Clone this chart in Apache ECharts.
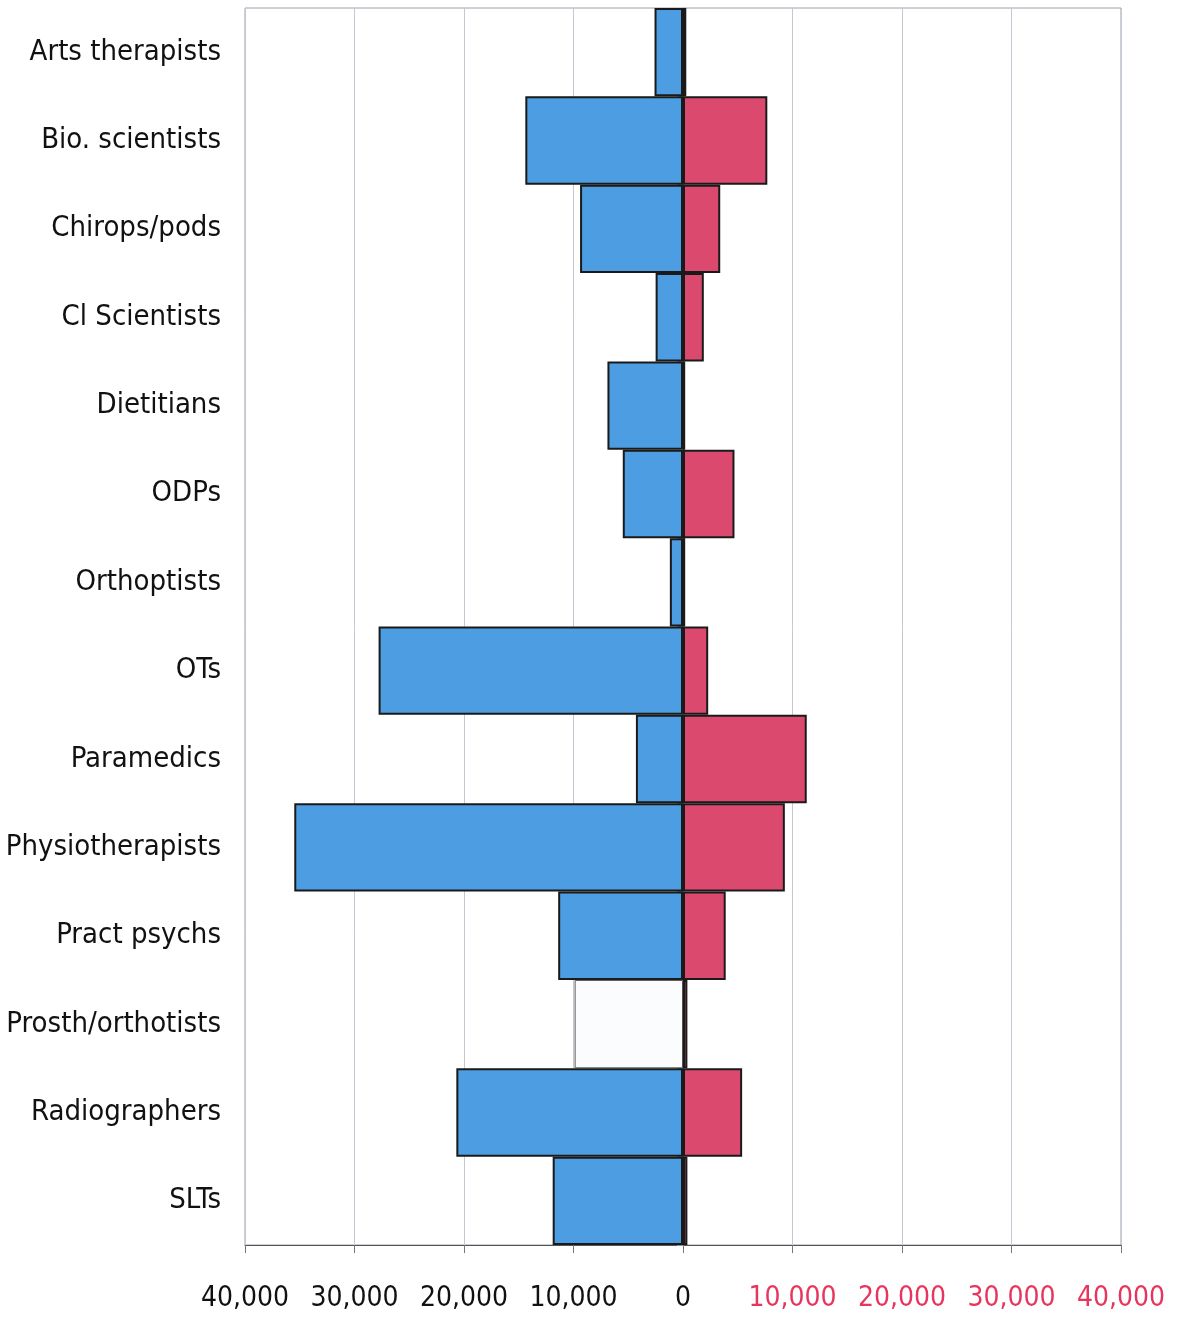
<!DOCTYPE html>
<html><head><meta charset="utf-8">
<script src="https://cdn.jsdelivr.net/npm/echarts@6/dist/echarts.min.js"></script>
<style>html,body{margin:0;padding:0;background:#fff}#c{width:1177px;height:1323px}</style>
</head><body><div id="c"></div>
<script>
const categories = ["Arts therapists","Bio. scientists","Chirops/pods","Cl Scientists","Dietitians","ODPs","Orthoptists","OTs","Paramedics","Physiotherapists","Pract psychs","Prosth/orthotists","Radiographers","SLTs"];
const leftValues = [-2600,-14400,-9400,-2500,-6900,-5500,-1200,-27800,-4300,-35500,-11400,-9900,-20700,-11900];
const rightValues = [300,7700,3400,1900,200,4700,200,2300,11300,9300,3900,400,5400,400];
const tickValues = [-40000,-30000,-20000,-10000,0,10000,20000,30000,40000];
const fadedIndex = 11;

const FONT = '"Liberation Sans Narrow","Arial Narrow","DejaVu Sans Condensed",sans-serif';
const fmt = v => Math.abs(v).toLocaleString('en-US');

const chart = echarts.init(document.getElementById('c'));
chart.setOption({
  animation:false,
  backgroundColor:'#fff',
  grid:{left:245,right:56,top:8,bottom:78,show:true,borderColor:'#9aa0a8',borderWidth:1,
        containLabel:false,outerBoundsMode:'none'},
  xAxis:{type:'value',min:tickValues[0],max:tickValues[tickValues.length-1],interval:10000,
    axisLine:{show:true,lineStyle:{color:'#555'}},
    axisTick:{show:true,length:8,lineStyle:{color:'#777'}},
    splitLine:{show:true,lineStyle:{color:'#c3c8d2',width:1}},
    axisLabel:{margin:40,fontFamily:FONT,fontSize:28,
      formatter:v=>fmt(v),
      color:v=>v>0?'#e8355e':'#111'}},
  yAxis:{type:'category',data:categories,inverse:true,
    axisLine:{show:true,lineStyle:{color:'#8a9099'}},
    axisTick:{show:true,length:6,lineStyle:{color:'#8a9099'}},
    axisLabel:{margin:24,fontFamily:FONT,fontSize:29,color:'#111'}},
  series:[
    {type:'bar',name:'left',barGap:'-100%',barCategoryGap:'0%',
     data:leftValues.map((v,i)=>i===fadedIndex?{value:v,itemStyle:{color:'#fbfcfd',borderColor:'#555',borderWidth:1}}:v),
     itemStyle:{color:'#4d9de2',borderColor:'#1a1a1a',borderWidth:2}},
    {type:'bar',name:'right',barGap:'-100%',barCategoryGap:'0%',
     data:rightValues,
     itemStyle:{color:'#db4a6e',borderColor:'#1a1a1a',borderWidth:2}}
  ]
});
</script></body></html>
